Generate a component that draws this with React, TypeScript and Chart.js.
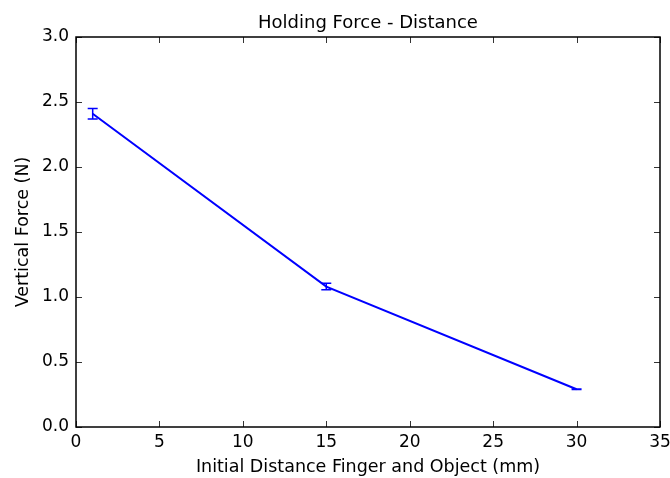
import React, { useEffect, useRef } from "react";
import { Chart, registerables } from "chart.js";

Chart.register(...registerables);

const distances = [1, 15, 30];
const forces = [2.41, 1.08, 0.29];
const forceErrors = [0.04, 0.025, 0.002];
const xTicks = [0, 5, 10, 15, 20, 25, 30, 35];
const yTicks = [0, 0.5, 1.0, 1.5, 2.0, 2.5, 3.0];

const chartTitle = "Holding Force - Distance";
const xLabel = "Initial Distance Finger and Object (mm)";
const yLabel = "Vertical Force (N)";

const FONT = "'DejaVu Sans', sans-serif";
const BLUE = "#0000ff";

const framePlugin = {
  id: "frame",
  afterDatasetsDraw(chart: any) {
    const { ctx, chartArea, scales } = chart;
    const { left, right, top, bottom } = chartArea;
    ctx.save();
    // error bars
    ctx.strokeStyle = BLUE;
    ctx.lineWidth = 1.5;
    distances.forEach((d, i) => {
      const x = scales.x.getPixelForValue(d);
      const y1 = scales.y.getPixelForValue(forces[i] + forceErrors[i]);
      const y0 = scales.y.getPixelForValue(forces[i] - forceErrors[i]);
      const cap = 5;
      ctx.beginPath();
      ctx.moveTo(x, y0);
      ctx.lineTo(x, y1);
      ctx.moveTo(x - cap, y0);
      ctx.lineTo(x + cap, y0);
      ctx.moveTo(x - cap, y1);
      ctx.lineTo(x + cap, y1);
      ctx.stroke();
    });
    // inward ticks
    ctx.strokeStyle = "#000";
    ctx.lineWidth = 0.8;
    const tl = 6;
    ctx.beginPath();
    xTicks.forEach((v) => {
      const x = Math.round(scales.x.getPixelForValue(v)) + 0.5;
      ctx.moveTo(x, bottom);
      ctx.lineTo(x, bottom - tl);
      ctx.moveTo(x, top);
      ctx.lineTo(x, top + tl);
    });
    yTicks.forEach((v) => {
      const y = Math.round(scales.y.getPixelForValue(v)) + 0.5;
      ctx.moveTo(left, y);
      ctx.lineTo(left + tl, y);
      ctx.moveTo(right, y);
      ctx.lineTo(right - tl, y);
    });
    ctx.stroke();
    // frame
    ctx.lineWidth = 1.5;
    ctx.strokeStyle = "#000";
    ctx.strokeRect(left, top, right - left, bottom - top);
    // title
    ctx.fillStyle = "#000";
    ctx.font = `18px ${FONT}`;
    ctx.textAlign = "center";
    ctx.textBaseline = "bottom";
    ctx.fillText(chartTitle, (left + right) / 2, top - 5);
    ctx.restore();
  },
};

export default function App() {
  const ref = useRef<HTMLCanvasElement>(null);
  useEffect(() => {
    document.body.style.margin = "0";
    const chart = new Chart(ref.current!, {
      type: "line",
      data: {
        datasets: [
          {
            data: distances.map((d, i) => ({ x: d, y: forces[i] })),
            borderColor: BLUE,
            borderWidth: 2,
            pointRadius: 0,
            fill: false,
            tension: 0,
          },
        ],
      },
      options: {
        animation: false,
        responsive: false,
        devicePixelRatio: 1,
        layout: { padding: { left: 0, right: 10, top: 37, bottom: 0 } },
        plugins: { legend: { display: false }, title: { display: false }, tooltip: { enabled: false } },
        scales: {
          x: {
            type: "linear",
            min: 0,
            max: 35,
            afterFit: (s: any) => {
              s.height = 51;
              s.paddingLeft = 0;
              s.paddingRight = 0;
            },
            afterBuildTicks: (s: any) => {
              s.ticks = xTicks.map((v) => ({ value: v }));
            },
            grid: { display: false, drawTicks: false },
            border: { display: false },
            ticks: {
              padding: 5,
              color: "#000",
              font: { family: FONT, size: 17 },
              maxRotation: 0,
              callback: (v: any) => String(v),
            },
            title: {
              display: true,
              text: xLabel,
              color: "#000",
              font: { family: FONT, size: 17.5 },
              padding: { top: 0, bottom: 0 },
            },
          },
          y: {
            type: "linear",
            min: 0,
            max: 3,
            afterFit: (s: any) => {
              s.width = 76;
              s.paddingTop = 0;
              s.paddingBottom = 0;
            },
            afterBuildTicks: (s: any) => {
              s.ticks = yTicks.map((v) => ({ value: v }));
            },
            grid: { display: false, drawTicks: false },
            border: { display: false },
            ticks: {
              padding: 7,
              color: "#000",
              font: { family: FONT, size: 17 },
              callback: (v: any) => Number(v).toFixed(1),
            },
            title: {
              display: true,
              text: yLabel,
              color: "#000",
              font: { family: FONT, size: 17.5 },
              padding: { top: 13, bottom: 4 },
            },
          },
        },
      },
      plugins: [framePlugin],
    });
    return () => chart.destroy();
  }, []);
  return <canvas ref={ref} width={670} height={478} style={{ display: "block" }} />;
}
